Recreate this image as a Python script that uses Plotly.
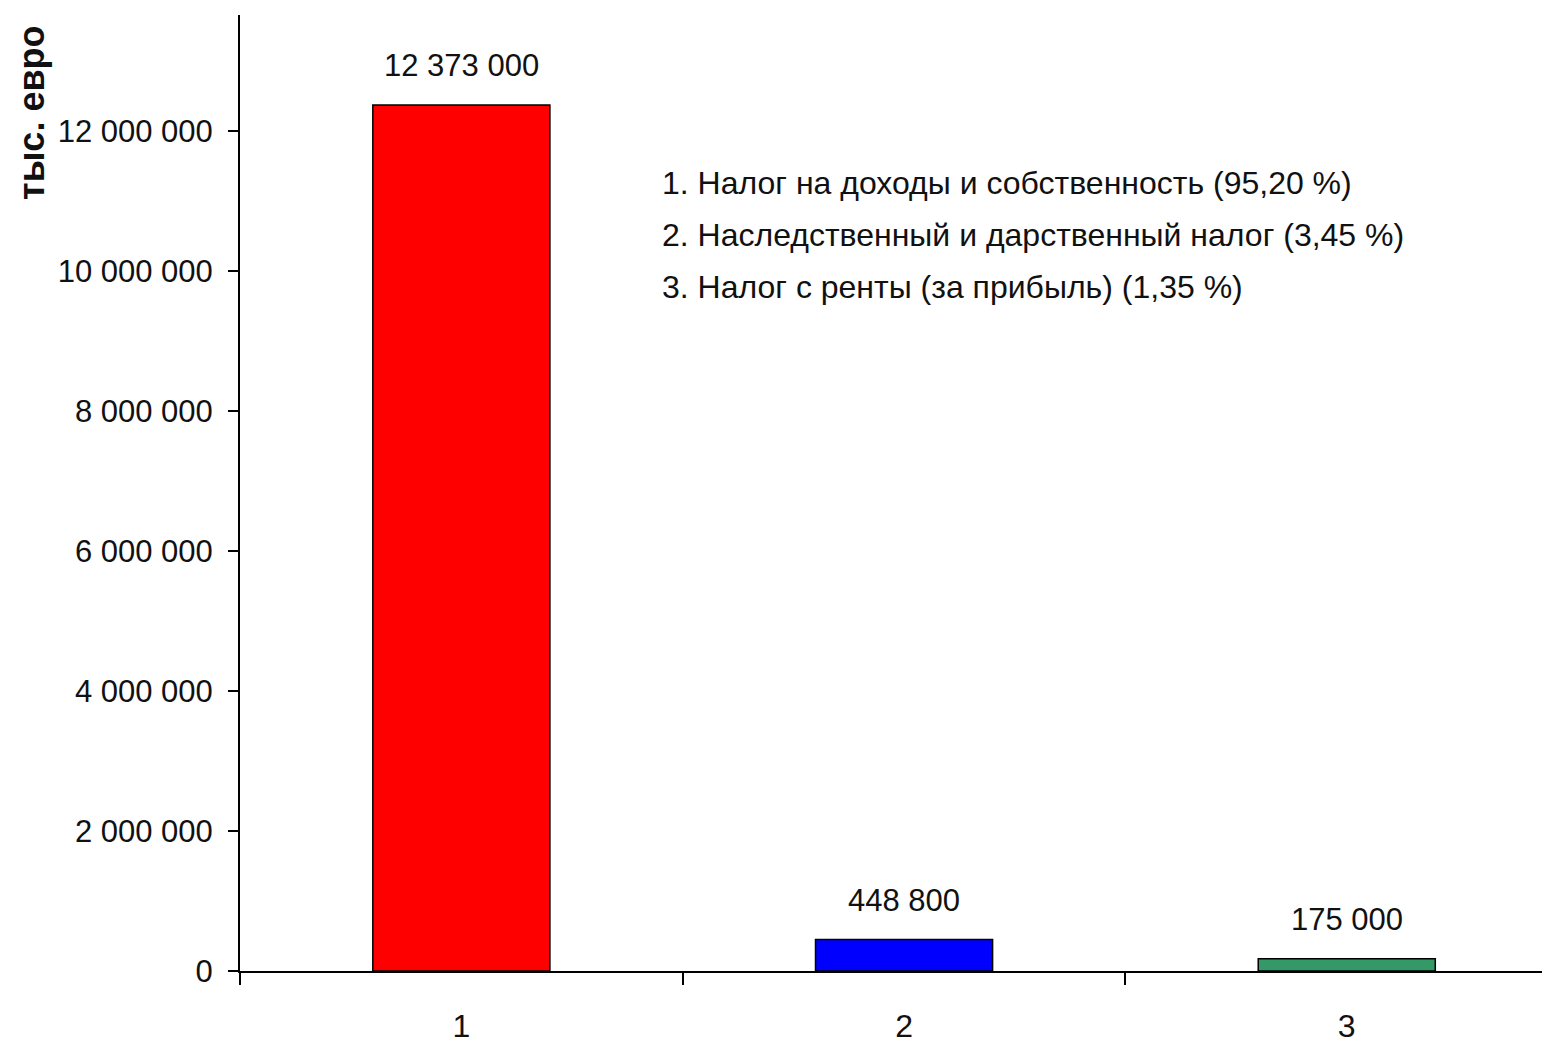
import plotly.graph_objects as go

categories = ["1", "2", "3"]
values = [12373000, 448800, 175000]
colors = ["#FF0000", "#0000FF", "#339966"]
y_tickvals = [0, 2000000, 4000000, 6000000, 8000000, 10000000, 12000000]
legend_lines = [
    "1. Налог на доходы и собственность (95,20 %)",
    "2. Наследственный и дарственный налог (3,45 %)",
    "3. Налог с ренты (за прибыль) (1,35 %)",
]
y_title = "тыс. евро"

FONT = "Liberation Sans, Arial, sans-serif"
W, H = 1542, 1037
L, R, T, B = 232, 0, 7, 74
PW, PH = W - L - R, H - T - B

fig = go.Figure()
fig.add_trace(go.Bar(
    x=categories, y=values,
    marker=dict(color=colors, line=dict(color="black", width=1.5)),
    width=0.4,
    cliponaxis=False,
))

for i, v in enumerate(values):
    fig.add_annotation(
        x=i, y=v, xref="x", yref="y", text=f"{v:,}".replace(",", " "),
        showarrow=False, yanchor="bottom", yshift=20,
        font=dict(family=FONT, size=31, color="#111"),
    )

fig.update_layout(
    width=W, height=H,
    margin=dict(l=L, r=R, t=T, b=B, autoexpand=False),
    paper_bgcolor="white", plot_bgcolor="white",
    separators=", ",
    showlegend=False,
    font=dict(family=FONT, size=31, color="#111"),
    xaxis=dict(
        type="category", range=[-0.5, 2.5 - 18 / 440],
        showline=True, linecolor="black", linewidth=2,
        ticks="outside", tickson="boundaries", ticklen=12, tickwidth=1.5, tickcolor="black",
        showgrid=False, zeroline=False, automargin=False,
        tickfont=dict(family=FONT, size=32, color="#111"),
        ticklabelstandoff=26,
    ),
    yaxis=dict(
        range=[0, 13660000],
        tickvals=y_tickvals, tickformat=",d",
        showline=True, linecolor="black", linewidth=2,
        ticks="outside", ticklen=10, tickwidth=1.5, tickcolor="black",
        showgrid=False, zeroline=False, automargin=False,
        tickfont=dict(family=FONT, size=31, color="#111"),
        ticklabelstandoff=9,
    ),
)

for i, line in enumerate(legend_lines):
    fig.add_annotation(
        text=line,
        xref="paper", yref="paper",
        x=(660 - 8 - L) / PW, y=(H - B - (183 - 8 + 52 * i)) / PH,
        xanchor="left", yanchor="middle", align="left", showarrow=False,
        font=dict(family=FONT, size=32, color="#111"),
    )

fig.add_annotation(
    text="<b>" + y_title + "</b>",
    xref="paper", yref="paper",
    x=(31 - 8 - L) / PW, y=(H - B - (113 - 8)) / PH,
    xanchor="center", yanchor="middle", textangle=-90, showarrow=False,
    font=dict(family="Liberation Sans, Arial, sans-serif", size=36, color="#111"),
)

fig.write_html("out.html")
